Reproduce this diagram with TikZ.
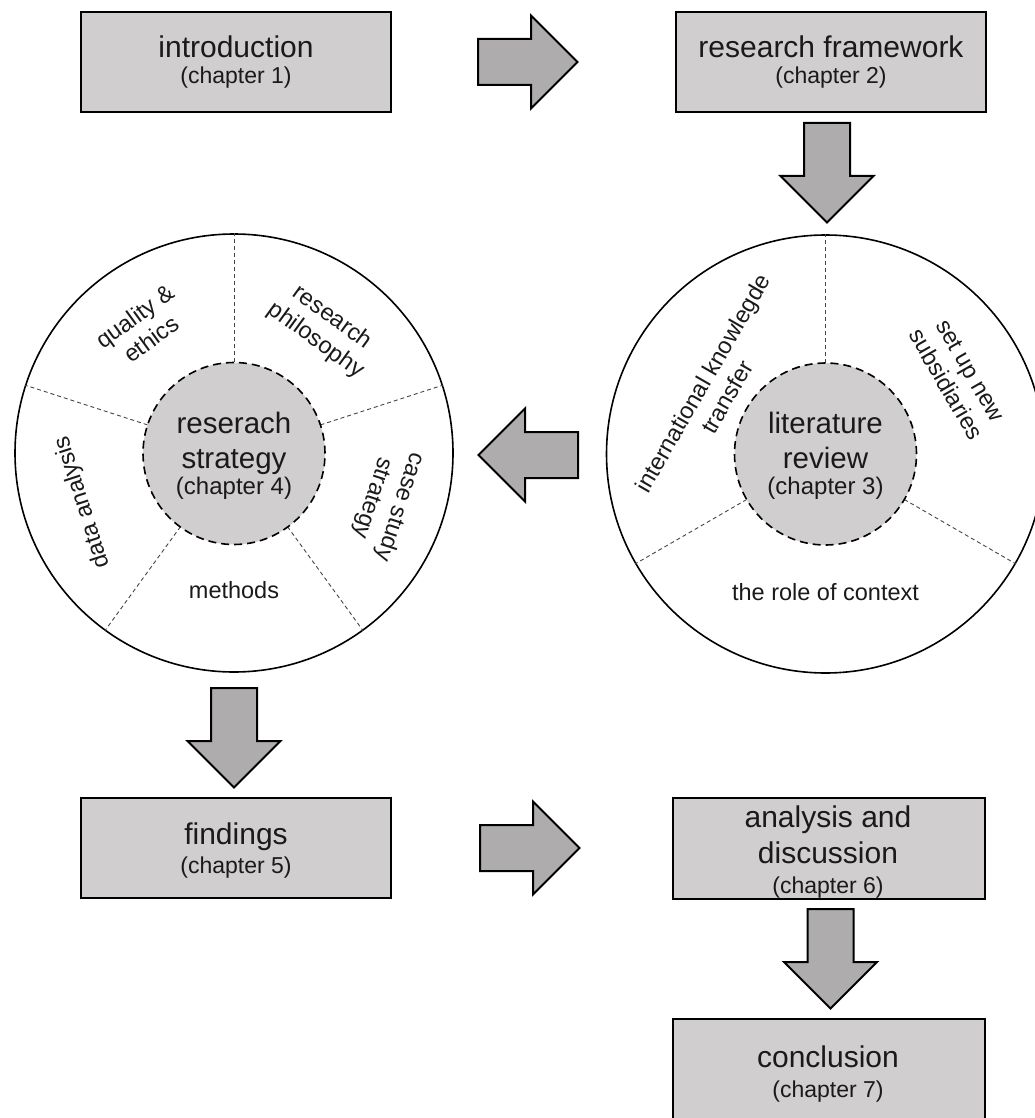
\documentclass[tikz,border=0pt]{standalone}
\usepackage{fontspec}
\setmainfont{Liberation Sans}
\usetikzlibrary{calc}
\definecolor{boxfill}{RGB}{208,206,206}
\definecolor{arrowfill}{RGB}{174,172,172}
\definecolor{ink}{RGB}{26,26,26}
\definecolor{divgray}{RGB}{70,70,70}
\begin{document}
\begin{tikzpicture}[x=1pt,y=-1pt,
  chapbox/.style={rectangle, draw=black, line width=2pt, fill=boxfill,
    minimum width=310pt, minimum height=100pt, inner sep=0pt},
  boxtitle/.style={font=\fontsize{30}{36}\selectfont, text=ink, inner sep=0pt, anchor=base},
  boxchap/.style={font=\fontsize{23}{28}\selectfont, text=ink, inner sep=0pt, anchor=base},
  ring/.style={circle, draw=black, line width=1.6pt, fill=white,
    minimum size=438pt, inner sep=0pt},
  hub/.style={circle, draw=black, line width=1.6pt, dash pattern=on 8pt off 5pt,
    fill=boxfill, minimum size=182pt, inner sep=0pt},
  divider/.style={draw=divgray, line width=0.9pt, dash pattern=on 4pt off 3pt},
  hubtitle/.style={font=\fontsize{29.5}{35}\selectfont, text=ink, inner sep=0pt, anchor=base},
  hubchap/.style={font=\fontsize{24}{28}\selectfont, text=ink, inner sep=0pt, anchor=base},
  ringlabel/.style={font=\fontsize{23.5}{28}\selectfont, text=ink, align=center, inner sep=0pt},
  arrowstyle/.style={draw=black, line width=2pt, fill=arrowfill, line join=miter},
  blockarrow/.pic={\draw[arrowstyle] (0,-23) -- (53,-23) -- (53,-46.5) -- (99.5,0)
      -- (53,46.5) -- (53,23) -- (0,23) -- cycle;}
]
\clip (0,0) rectangle (1035,1118);
\fill[white] (0,0) rectangle (1035,1118);

% chapter boxes
\node[chapbox] (intro) at (236,62) {};
\node[boxtitle] (intro-t) at (236,58) {introduction};
\node[boxchap] (intro-c) at (236,84) {(chapter 1)};

\node[chapbox] (frame) at (831,62) {};
\node[boxtitle] (frame-t) at (831,58) {research framework};
\node[boxchap] (frame-c) at (831,84) {(chapter 2)};

\node[chapbox] (find) at (236,848) {};
\node[boxtitle] (find-t) at (236,844) {findings};
\node[boxchap] (find-c) at (236,873) {(chapter 5)};

\node[chapbox, minimum width=312pt, minimum height=101pt] (disc) at (829,848.5) {};
\node[boxtitle] (disc-t1) at (828,827) {analysis and};
\node[boxtitle] (disc-t2) at (828,863) {discussion};
\node[boxchap] (disc-c) at (828,893) {(chapter 6)};

\node[chapbox, minimum width=312pt, minimum height=102pt] (concl) at (829,1070) {};
\node[boxtitle] (concl-t) at (828,1067) {conclusion};
\node[boxchap] (concl-c) at (828,1097) {(chapter 7)};

% research strategy wheel
\node[ring] (lring) at (234,453) {};
\foreach \a in {90,18,-54,-126,162}
  \draw[divider] (lring.center) ++(\a:91pt) -- (lring.\a);
\node[hub] (lhub) at (234,453.5) {};
\node[hubtitle] (lhub-t1) at (234,433) {reserach};
\node[hubtitle] (lhub-t2) at (234,468) {strategy};
\node[hubchap] (lhub-c) at (234,494) {(chapter 4)};

\node[ringlabel, rotate=36] (qual) at ($(lring.center)+(126:155pt)$) {quality \&\\ethics};
\node[ringlabel, rotate=-36] (phil) at ($(lring.center)+(54:153pt)$) {research\\philosophy};
\node[ringlabel, rotate=-108] (case) at ($(lring.center)+(-18:160pt)$) {case study\\strategy};
\node[ringlabel] (meth) at ($(lring.center)+(-90:137pt)$) {methods};
\node[ringlabel, rotate=108] (data) at ($(lring.center)+(198:159pt)$) {data analysis};

% literature review wheel
\node[ring] (rring) at (825.5,454) {};
\foreach \a in {90,-30,210}
  \draw[divider] (rring.center) ++(\a:91pt) -- (rring.\a);
\node[hub] (rhub) at (825.5,454) {};
\node[hubtitle] (rhub-t1) at (825.5,433) {literature};
\node[hubtitle] (rhub-t2) at (825.5,468) {review};
\node[hubchap] (rhub-c) at (825.5,494) {(chapter 3)};

\node[ringlabel, rotate=60] (ikt) at ($(rring.center)+(150:128pt)$) {international knowlegde\\transfer};
\node[ringlabel, rotate=-60] (subs) at ($(rring.center)+(30:153pt)$) {set up new\\subsidiaries};
\node[ringlabel] (ctx) at ($(rring.center)+(-90:138pt)$) {the role of context};

% block arrows between the stages
\pic (a1) at (478,62) {blockarrow};
\pic[rotate=-90] (a2) at (827,123) {blockarrow};
\pic[rotate=180] (a3) at (578,455) {blockarrow};
\pic[rotate=-90] (a4) at (234,688) {blockarrow};
\pic (a5) at (480,848) {blockarrow};
\pic[rotate=-90] (a6) at (830.5,909) {blockarrow};
\end{tikzpicture}
\end{document}
